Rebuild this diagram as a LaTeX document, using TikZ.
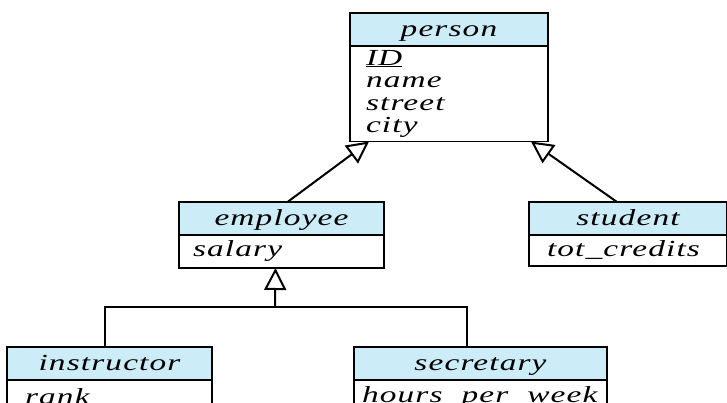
\documentclass[tikz,border=0pt]{standalone}
\usepackage{fontspec}
\usepackage{xcolor}
\usetikzlibrary{positioning}
\usetikzlibrary{arrows.meta}
\newfontfamily\umlfont{Liberation Serif}[FakeStretch=1.45,LetterSpace=5]
\definecolor{headblue}{RGB}{204,236,248}
\tikzstyle{classhead} = [rectangle, draw=black, fill=headblue, line width=1.8pt,
minimum height=33pt, inner sep=0pt, outer sep=0pt, anchor=north west,
text height=18pt, text depth=4pt,
font=\umlfont\itshape\fontsize{23}{22.5}\selectfont]
\tikzstyle{classbody} = [rectangle, draw=black, fill=white, line width=1.8pt,
inner xsep=16pt, inner ysep=4pt, outer sep=0pt, align=left, minimum height=33pt,
font=\umlfont\itshape\fontsize{23}{22.5}\selectfont]
\tikzstyle{isa} = [line width=2pt, -{Triangle[open, length=22pt, width=22pt, line width=2pt]}]

\begin{document}
\begin{tikzpicture}[x=1pt, y=1pt]
\useasboundingbox (0,0) rectangle (727,-403);

\node[classhead, minimum width=198pt] (personhead) at (350,-13) {person};
\node[classbody, below=0pt of personhead, text width=166pt] (personbody) {\underline{ID}\\name\\street\\city};

\node[classhead, minimum width=205pt] (emphead) at (179,-202) {employee};
\node[classbody, below=0pt of emphead, inner xsep=14pt, text width=177pt] (empbody) {salary};

\node[classhead, minimum width=198pt] (studhead) at (529,-202) {student};
\node[classbody, below=0pt of studhead, inner xsep=18pt, minimum height=31pt, text width=162pt] (studbody) {tot\_credits};

\node[classhead, minimum width=205pt] (insthead) at (7,-347) {instructor};
\node[classbody, below=0pt of insthead, inner xsep=18pt, inner ysep=1pt, text width=169pt] (instbody) {rank};

\node[classhead, minimum width=253pt] (sechead) at (354,-347) {secretary};
\node[classbody, below=0pt of sechead, inner xsep=8pt, inner ysep=1pt, text width=237pt] (secbody) {hours\_per\_week};

% generalisation arrows
\draw[isa] ([xshift=6pt]emphead.north) -- ([xshift=-80pt]personbody.south);
\draw[isa] ([xshift=-11pt]studhead.north) -- ([xshift=82pt]personbody.south);

\coordinate (split) at (275,-307);
\draw[line width=2pt] ([xshift=-5pt]insthead.north) |- (split) -| ([xshift=-14pt]sechead.north);
\draw[isa] (split) -- ([xshift=-6pt]empbody.south);

\end{tikzpicture}
\end{document}
